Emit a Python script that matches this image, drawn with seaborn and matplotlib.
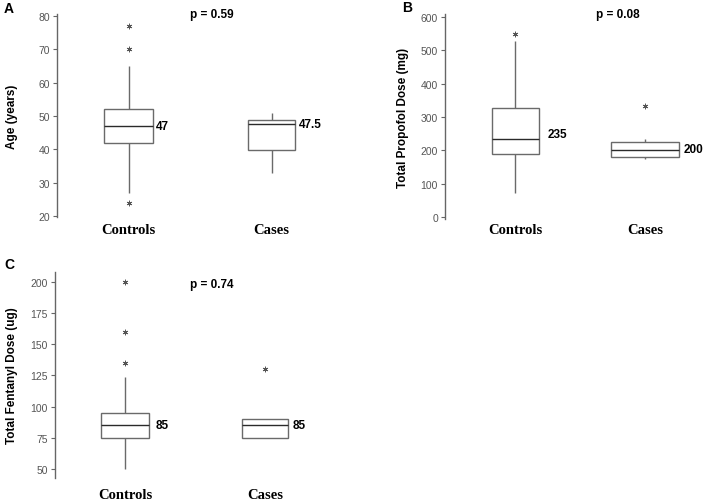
import pandas as pd
import seaborn as sns
import matplotlib.pyplot as plt

groups = ["Controls", "Cases"]
age_controls = [24, 27, 35, 42, 44, 46, 47, 49, 50, 52, 65, 70, 77]
age_cases = [33, 39.7, 47.5, 48.8, 51]
propofol_controls = [72, 150, 190, 210, 235, 280, 328, 528, 550]
propofol_cases = [173, 176, 179, 190, 200, 212, 224, 233, 334]
fentanyl_controls = [50, 60, 68, 72, 75, 78, 80, 83, 85, 87, 90, 93, 95, 124, 135, 160, 200]
fentanyl_cases = [75, 75, 85, 90, 130]

# Median labels and p-values
age_labels = ["47", "47.5"]
propofol_labels = ["235", "200"]
fentanyl_labels = ["85", "85"]
age_label_y = [47, 47.5]
propofol_label_y = [248, 203]
fentanyl_label_y = [85, 85]
p_values = ["p = 0.59", "p = 0.08", "p = 0.74"]

sns.set_style("white")
plt.rcParams["font.family"] = ["Liberation Sans", "DejaVu Sans"]
plt.rcParams["text.color"] = "black"
plt.rcParams["axes.labelcolor"] = "black"

W, H = 706, 502
fig = plt.figure(figsize=(W / 100, H / 100), dpi=100)


def add_axes(left, top, right, bottom):
    return fig.add_axes([left / W, 1 - bottom / H, (right - left) / W, (bottom - top) / H])


panels = [
    dict(rect=(57, 15, 343, 218), xlim=(-0.5, 1.5), ylim=(19.7, 80.6),
         yticks=[20, 30, 40, 50, 60, 70, 80], widths=[0.336, 0.33],
         data=[age_controls, age_cases], labels=age_labels, label_y=age_label_y,
         label_gap=[3.5, 3.5], ylabel="Age (years)", ylab_x=12, p_xy=(0.542, 1.0),
         letter="A", letter_xy=(9, 9), pad=4),
    dict(rect=(445, 15, 705, 220), xlim=(-0.54, 1.46), ylim=(-6, 609),
         yticks=[0, 100, 200, 300, 400, 500, 600], widths=[0.36, 0.52],
         data=[propofol_controls, propofol_cases], labels=propofol_labels,
         label_y=propofol_label_y, label_gap=[9.5, 5], ylabel="Total Propofol Dose (mg)",
         ylab_x=403, p_xy=(0.665, 1.0), letter="B", letter_xy=(407, 8), pad=3),
    dict(rect=(55, 273, 335, 479), xlim=(-0.5, 1.5), ylim=(42.8, 208),
         yticks=[50, 75, 100, 125, 150, 175, 200], widths=[0.336, 0.33],
         data=[fentanyl_controls, fentanyl_cases], labels=fentanyl_labels,
         label_y=fentanyl_label_y, label_gap=[7.5, 5], ylabel="Total Fentanyl Dose (ug)",
         ylab_x=12, p_xy=(0.561, 0.942), letter="C", letter_xy=(9, 265), pad=7),
]

for n, pnl in enumerate(panels):
    ax = add_axes(*pnl["rect"])
    for i, g in enumerate(groups):
        df = pd.DataFrame({"group": g, "value": pnl["data"][i]})
        sns.boxplot(
            data=df, x="group", y="value", order=groups, ax=ax,
            width=pnl["widths"][i], color="white", linecolor="#6a6a6a",
            linewidth=1.0, showcaps=False,
            medianprops={"color": "#2a2a2a", "linewidth": 1.0},
            flierprops={"marker": (6, 2, 0), "markersize": 4,
                        "markeredgecolor": "#555555", "markeredgewidth": 0.6},
        )
        ax.annotate(pnl["labels"][i],
                    xy=(i + pnl["widths"][i] / 2, pnl["label_y"][i]),
                    xytext=(pnl["label_gap"][i] * 0.72, 0), textcoords="offset points",
                    ha="left", va="center", fontsize=8.5, fontweight="bold")
    ax.set_xlim(*pnl["xlim"])
    ax.set_ylim(*pnl["ylim"])
    ax.set_yticks(pnl["yticks"])
    ax.set_yticklabels([str(t) for t in pnl["yticks"]],
                       family=["Liberation Sans Narrow", "Liberation Sans", "DejaVu Sans"],
                       color="#555555", fontsize=7.5)
    ax.set_xticks([0, 1])
    ax.set_xticklabels(groups, family=["Liberation Serif", "DejaVu Serif"],
                       fontweight="bold", fontsize=10.5, color="black")
    ax.tick_params(axis="x", length=0, pad=pnl["pad"])
    ax.tick_params(axis="y", left=True, length=3, width=0.8, color="#666666", pad=2)
    ax.set_xlabel("")
    ax.set_ylabel(pnl["ylabel"], fontsize=8.5, fontweight="bold")
    left, top, right, bottom = pnl["rect"]
    ax.yaxis.label.set_verticalalignment("center")
    ax.yaxis.set_label_coords((pnl["ylab_x"] - left) / (right - left), 0.5)
    sns.despine(ax=ax, bottom=True)
    ax.spines["left"].set_color("#666666")
    ax.spines["left"].set_linewidth(1.0)
    ax.text(*pnl["p_xy"], p_values[n], transform=ax.transAxes,
            ha="center", va="center", fontsize=8.5, fontweight="bold")
    fig.text(pnl["letter_xy"][0] / W, 1 - pnl["letter_xy"][1] / H, pnl["letter"],
             ha="center", va="center", fontsize=10, fontweight="bold")

fig.savefig("out.png", dpi=100)
